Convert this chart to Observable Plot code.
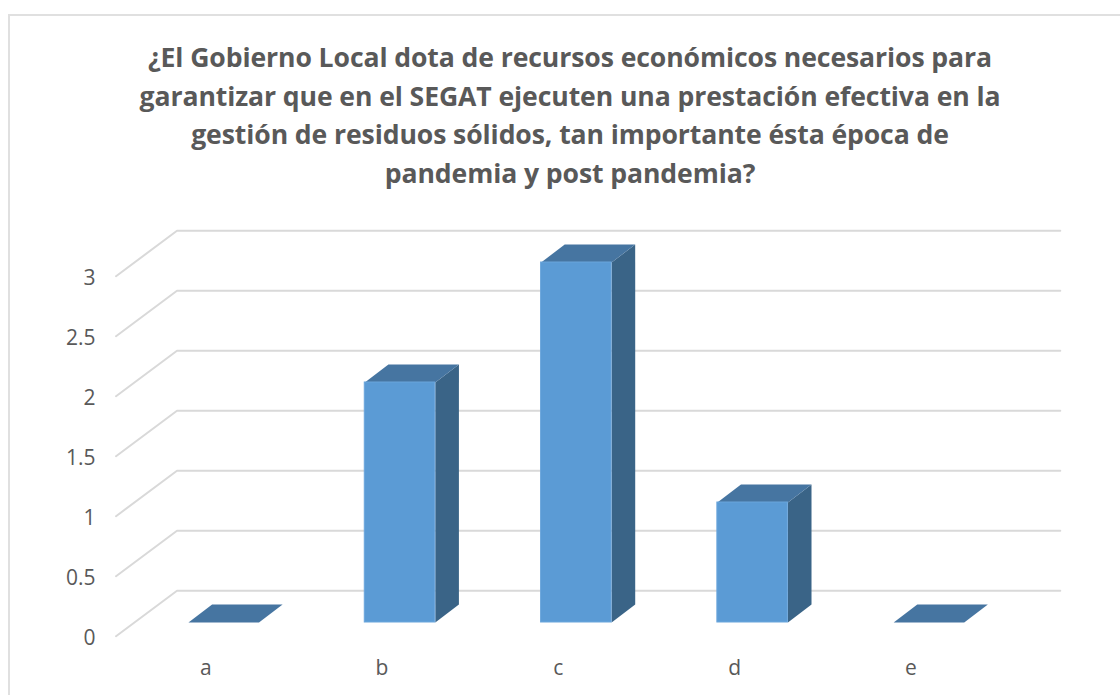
<!DOCTYPE html>
<html lang="es">
<head>
<meta charset="utf-8">
<script src="https://cdn.jsdelivr.net/npm/d3@7"></script>
<script src="https://cdn.jsdelivr.net/npm/@observablehq/plot@0.6"></script>
<style>
  html, body { margin: 0; padding: 0; background: #fff; overflow: hidden; }
  #page { position: relative; width: 1120px; height: 695px; overflow: hidden; font-family: "Open Sans", sans-serif; }
  #border { position: absolute; left: 8px; top: 14px; width: 1200px; height: 800px; border: 2px solid #e0e0e0; }
  #title { position: absolute; left: 90px; top: 38px; width: 960px; text-align: center; color: #595959;
           font-size: 26.6px; font-weight: 700; line-height: 38.5px; letter-spacing: -0.1px; }
  #chart { position: absolute; left: 0; top: 210px; }
  #chart svg { display: block; background: transparent; }
</style>
</head>
<body>
<div id="page">
  <div id="border"></div>
  <div id="title">¿El Gobierno Local dota de recursos económicos necesarios para<br>garantizar que en el SEGAT ejecuten una prestación efectiva en la<br>gestión de residuos sólidos, tan importante ésta época de<br>pandemia y post pandemia?</div>
  <div id="chart"></div>
</div>
<script>
const categories = ["a", "b", "c", "d", "e"];
const counts = [0, 2, 3, 1, 0];
const yTicks = [0, 0.5, 1, 1.5, 2, 2.5, 3];

// 3D projection expressed in data units of the two scales
const halfBar = 0.2, depthX = 0.134, depthY = 0.15;
const wallFrontX = -0.611, wallBackX = -0.265, wallRightX = 4.745;
const wallFrontY = -0.114, wallBackY = 0.264;

const index = categories.map((_, i) => i);
const poly = (pts, key) => pts.map(([x, y]) => ({x, y, key}));

const gridRows = yTicks.flatMap(v => poly([
  [wallFrontX, v + wallFrontY], [wallBackX, v + wallBackY], [wallRightX, v + wallBackY]
], v));

const sideRows = index.filter(i => counts[i] > 0).flatMap(i => poly([
  [i + halfBar, 0], [i + halfBar + depthX, depthY],
  [i + halfBar + depthX, counts[i] + depthY], [i + halfBar, counts[i]]
], categories[i]));

const topRows = index.flatMap(i => poly([
  [i - halfBar, counts[i]], [i + halfBar, counts[i]],
  [i + halfBar + depthX, counts[i] + depthY], [i - halfBar + depthX, counts[i] + depthY]
], categories[i]));

const frontRows = index.filter(i => counts[i] > 0).map(i => ({
  x1: i - halfBar, x2: i + halfBar, y1: 0, y2: counts[i]
}));

const plot = Plot.plot({
  width: 1120,
  height: 485,
  marginLeft: 91,
  marginRight: 32.9,
  marginTop: 28,
  marginBottom: 49,
  style: {fontFamily: "'Open Sans', sans-serif", fontSize: "21px", color: "#595959", background: "transparent", overflow: "visible"},
  x: {type: "linear", domain: [-0.75, 4.9], label: null},
  y: {domain: [-0.2, 3.2], label: null},
  marks: [
    Plot.line(gridRows, {x: "x", y: "y", z: "key", stroke: "#d9d9d9", strokeWidth: 2, curve: "linear"}),
    Plot.line(sideRows, {x: "x", y: "y", z: "key", fill: "#3a6487", stroke: "none", curve: "linear"}),
    Plot.line(topRows, {x: "x", y: "y", z: "key", fill: "#4675a1", stroke: "none", curve: "linear"}),
    Plot.rect(frontRows, {x1: "x1", x2: "x2", y1: "y1", y2: "y2", fill: "#5b9bd5", stroke: "#6ba6dc", strokeWidth: 1}),
    Plot.axisY({ticks: yTicks, anchor: "left", tickSize: 0, tickPadding: 0, dx: 4, dy: 15.5,
                tickFormat: d => String(d), label: null, fill: "#595959"}),
    Plot.axisX({ticks: index, anchor: "bottom", tickSize: 0, tickPadding: 14, dx: -18,
                tickFormat: i => categories[i], label: null, fill: "#595959"})
  ]
});
document.getElementById("chart").appendChild(plot);
</script>
</body>
</html>
